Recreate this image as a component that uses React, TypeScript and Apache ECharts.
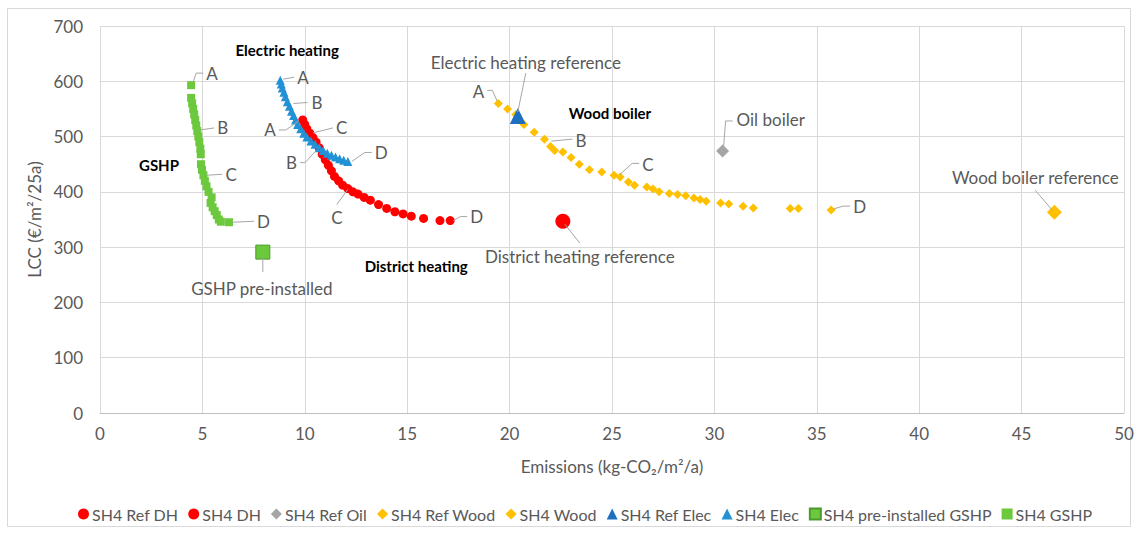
import React, { useEffect, useRef } from "react";
import * as echarts from "echarts";

// ---------- data ----------
const X_MIN = 0, X_MAX = 50, X_STEP = 5;
const Y_MIN = 0, Y_MAX = 700, Y_STEP = 100;

const seriesNames = [
  "SH4 Ref DH", "SH4 DH", "SH4 Ref Oil", "SH4 Ref Wood", "SH4 Wood",
  "SH4 Ref Elec", "SH4 Elec", "SH4 pre-installed GSHP", "SH4 GSHP",
];

const refDH = [[22.6, 347]];
const dh = [
  [9.9, 530], [10.0, 522], [10.1, 514], [10.25, 506], [10.4, 498], [10.55, 490],
  [10.7, 480], [10.85, 468], [11.0, 458], [11.15, 448], [11.3, 438], [11.45, 428],
  [11.65, 420], [11.85, 412], [12.1, 406], [12.35, 400], [12.6, 396], [12.9, 390],
  [13.2, 385], [13.6, 377], [14.0, 370], [14.4, 364], [14.8, 360], [15.2, 356],
  [15.8, 352], [16.6, 348], [17.1, 348],
];
const refOil = [[30.4, 474]];
const refWood = [[46.6, 363]];
const wood = [
  [19.45, 560], [19.9, 550], [20.3, 540], [20.7, 522], [21.2, 508], [21.7, 495],
  [22.0, 482], [22.2, 475], [22.6, 472], [23.0, 462], [23.4, 450], [23.9, 440],
  [24.5, 436], [25.1, 430], [25.4, 427], [25.8, 418], [26.1, 412], [26.7, 409],
  [27.0, 405], [27.3, 400], [27.8, 397], [28.2, 395], [28.6, 393], [29.0, 389],
  [29.3, 386], [29.6, 383], [30.3, 380], [30.7, 378], [31.4, 374], [31.9, 371],
  [33.7, 370], [34.1, 370], [35.7, 367],
];
const refElec = [[20.4, 537]];
const elec = [
  [8.8, 602], [8.85, 595], [8.9, 588], [8.98, 580], [9.05, 572], [9.15, 563],
  [9.25, 555], [9.35, 546], [9.45, 538], [9.55, 530], [9.65, 522], [9.8, 514],
  [9.95, 506], [10.1, 499], [10.3, 492], [10.5, 486], [10.7, 480], [10.9, 475],
  [11.1, 470], [11.3, 466], [11.5, 463], [11.7, 460], [11.9, 457], [12.1, 455],
];
const preGSHP = [[7.95, 291]];
const gshp = [
  [4.45, 593], [4.45, 570], [4.5, 560], [4.55, 550], [4.6, 540], [4.65, 530],
  [4.7, 520], [4.75, 510], [4.8, 500], [4.85, 490], [4.9, 478], [4.92, 468],
  [4.93, 450], [4.98, 440], [5.05, 430], [5.12, 420], [5.2, 410], [5.3, 400],
  [5.45, 390], [5.4, 380], [5.5, 372], [5.6, 365], [5.7, 358], [5.8, 350],
  [5.9, 346], [6.3, 345],
];

// group titles (data coordinates of text centre)
const groupTitles = [
  { text: "Electric heating", at: [9.14, 656] },
  { text: "GSHP", at: [2.88, 448] },
  { text: "District heating", at: [15.44, 266] },
  { text: "Wood boiler", at: [24.9, 542] },
];

// call-out labels: anchor in data coords, leader line & text offsets in px
const callouts = [
  // GSHP
  { text: "A", at: [4.45, 593], line: [[2, -3], [5, -12], [12, -12]], t: [15, -12], align: "left" },
  { text: "B", at: [4.75, 512], line: [[3, 0], [17, -2]], t: [20, -2], align: "left" },
  { text: "C", at: [5.05, 430], line: [[3, 0], [19, -1]], t: [22, -1], align: "left" },
  { text: "D", at: [6.3, 345], line: [[3, 0], [25, -1]], t: [28, -1], align: "left" },
  // Electric
  { text: "A", at: [8.8, 602], line: [[3, -1], [14, -3]], t: [17, -3], align: "left" },
  { text: "B", at: [9.3, 558], line: [[3, -1], [17, -2]], t: [21, -2], align: "left" },
  { text: "C", at: [10.25, 503], line: [[3, -2], [23, -7]], t: [26, -7], align: "left" },
  { text: "D", at: [12.1, 455], line: [[4, 0], [17, -9], [24, -9]], t: [27, -9], align: "left" },
  // District heating
  { text: "A", at: [9.9, 530], line: [[-4, 1], [-17, 10], [-24, 10]], t: [-27, 10], align: "right" },
  { text: "B", at: [10.6, 480], line: [[-2, 4], [-12, 15], [-17, 15]], t: [-20, 15], align: "right" },
  { text: "C", at: [12.15, 408], line: [[-1, 2], [-12, 17]], t: [-12, 30], align: "center" },
  { text: "D", at: [17.1, 348], line: [[3, 0], [10, -4], [17, -4]], t: [20, -4], align: "left" },
  // Wood
  { text: "A", at: [19.45, 560], line: [[-1, -2], [-6, -13], [-11, -13]], t: [-14, -12], align: "right" },
  { text: "B", at: [21.9, 490], line: [[3, -1], [24, -3]], t: [27, -2], align: "left" },
  { text: "C", at: [25.3, 428], line: [[2, -2], [14, -13], [21, -13]], t: [24, -12], align: "left" },
  { text: "D", at: [35.7, 367], line: [[2, -1], [12, -4], [19, -4]], t: [22, -4], align: "left" },
  // references
  { text: "Electric heating reference", at: [20.4, 537], line: [[0, -4], [8, -43]], t: [8, -54], align: "center" },
  { text: "Oil boiler", at: [30.4, 474], line: [[1, -4], [3, -30], [10, -30]], t: [14, -31], align: "left" },
  { text: "Wood boiler reference", at: [46.6, 363], line: [[-2, -2], [-19, -22]], t: [-19, -35], align: "center" },
  { text: "District heating reference", at: [22.6, 347], line: [[2, 3], [17, 22]], t: [17, 35], align: "center" },
  { text: "GSHP pre-installed", at: [7.95, 291], line: [[0, 6], [0, 20]], t: [-1, 36], align: "center" },
];

// ---------- styles ----------
const FONT = "Lato, 'Open Sans', sans-serif";
const TXT = "#595959";
const GRID = "#d9d9d9";

export default function App() {
  const ref = useRef<HTMLDivElement>(null);
  useEffect(() => {
    if (!ref.current) return;
    const chart = echarts.init(ref.current, undefined, { renderer: "svg" });

    const mk = (name: string, data: number[][], symbol: string, size: number, color: string, z: number, border?: string) => ({
      name, type: "scatter", data, symbol, symbolSize: size, z,
      itemStyle: { color, opacity: 1, borderColor: border || color, borderWidth: border ? 1 : 0 },
      emphasis: { disabled: true },
    });

    chart.setOption({
      animation: false,
      backgroundColor: "#ffffff",
      textStyle: { fontFamily: FONT },
      grid: { left: 100, right: 14, top: 26, bottom: 120, containLabel: false },
      xAxis: {
        type: "value", min: X_MIN, max: X_MAX, interval: X_STEP,
        name: "Emissions (kg-CO\u2082/m\u00b2/a)", nameLocation: "middle", nameGap: 45,
        nameTextStyle: { color: TXT, fontSize: 17, fontFamily: FONT },
        axisLine: { show: true, lineStyle: { color: "#bfbfbf" } },
        axisTick: { show: false },
        axisLabel: { color: TXT, fontSize: 17, margin: 12, fontFamily: FONT },
        splitLine: { show: true, lineStyle: { color: GRID } },
      },
      yAxis: {
        type: "value", min: Y_MIN, max: Y_MAX, interval: Y_STEP,
        name: "LCC (\u20ac/m\u00b2/25a)", nameLocation: "middle", nameGap: 51,
        nameTextStyle: { color: TXT, fontSize: 17, fontFamily: FONT },
        axisLine: { show: false }, axisTick: { show: false },
        axisLabel: { color: TXT, fontSize: 17, margin: 17, fontFamily: FONT },
        splitLine: { show: true, lineStyle: { color: GRID } },
      },
      legend: {
        left: 73, top: 501, itemGap: 10, itemWidth: 11, itemHeight: 11,
        textStyle: { color: TXT, fontSize: 16, fontFamily: FONT, padding: [0, 0, 0, -2] },
        data: [
          { name: seriesNames[0], icon: "circle" },
          { name: seriesNames[1], icon: "circle" },
          { name: seriesNames[2], icon: "diamond" },
          { name: seriesNames[3], icon: "diamond" },
          { name: seriesNames[4], icon: "diamond" },
          { name: seriesNames[5], icon: "triangle" },
          { name: seriesNames[6], icon: "triangle" },
          { name: seriesNames[7], icon: "rect" },
          { name: seriesNames[8], icon: "rect" },
        ],
      },
      series: [
        mk(seriesNames[0], refDH, "circle", 15, "#ff0000", 2),
        mk(seriesNames[1], dh, "circle", 9, "#ff0000", 3),
        mk(seriesNames[2], refOil, "diamond", 13, "#a5a5a5", 4),
        mk(seriesNames[3], refWood, "diamond", 15, "#ffc000", 5),
        mk(seriesNames[4], wood, "diamond", 9, "#ffc000", 6),
        mk(seriesNames[5], refElec, "triangle", 16, "#1f6fc0", 7),
        mk(seriesNames[6], elec, "triangle", 9, "#2291d6", 8),
        mk(seriesNames[7], preGSHP, "rect", 14, "#6cc83c", 9, "#4d9a2c"),
        mk(seriesNames[8], gshp, "rect", 8, "#6cc83c", 10),
      ],
    });

    const px = (p: number[]) => chart.convertToPixel({ xAxisIndex: 0, yAxisIndex: 0 }, p) as number[];
    const graphics: any[] = [
      {
        type: "rect", silent: true, z: -10,
        shape: { x: 7.5, y: 8.5, width: 1123, height: 518 },
        style: { fill: "none", stroke: GRID, lineWidth: 1 },
      },
    ];
    groupTitles.forEach((g) => {
      const [x, y] = px(g.at);
      graphics.push({
        type: "text", x, y, silent: true, z: 20,
        style: { text: g.text, fill: "#000000", font: `bold 15px ${FONT}`, align: "center", verticalAlign: "middle" },
      });
    });
    callouts.forEach((c) => {
      const [x, y] = px(c.at);
      graphics.push({
        type: "polyline", silent: true, z: 19,
        shape: { points: c.line.map(([dx, dy]) => [x + dx, y + dy]) },
        style: { stroke: "#a6a6a6", lineWidth: 1, fill: null },
      });
      graphics.push({
        type: "text", x: x + c.t[0], y: y + c.t[1], silent: true, z: 20,
        style: { text: c.text, fill: TXT, font: `17px ${FONT}`, align: c.align, verticalAlign: "middle" },
      });
    });
    chart.setOption({ graphic: graphics });

    return () => chart.dispose();
  }, []);

  return (
    <div
      ref={ref}
      style={{ position: "fixed", left: 0, top: 0, width: 1138, height: 533, background: "#fff" }}
    />
  );
}
